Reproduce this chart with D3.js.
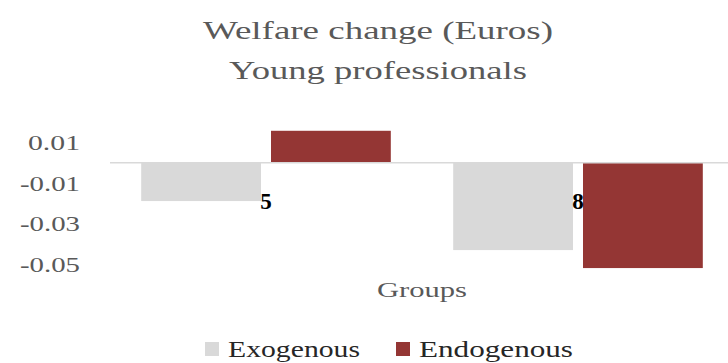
<!DOCTYPE html>
<html>
<head>
<meta charset="utf-8">
<script src="https://cdn.jsdelivr.net/npm/d3@7"></script>
<style>
  html, body { margin: 0; padding: 0; background: #fff; }
  svg { display: block; }
  text { font-family: "Liberation Serif", "DejaVu Serif", serif; fill: #595959; }
</style>
</head>
<body>
<svg id="chart" width="728" height="363"></svg>
<script>
// Welfare change per group, two model variants
const groups = ["5", "8"];
const seriesNames = ["Exogenous", "Endogenous"];
const exogenous = [-0.0187, -0.0427];
const endogenous = [0.0157, -0.0515];
const tickValues = [0.01, -0.01, -0.03, -0.05];
const titleLines = ["Welfare change (Euros)", "Young professionals"];
const axisTitle = "Groups";

const colors = { Exogenous: "#d9d9d9", Endogenous: "#943634" };

const svg = d3.select("#chart");
const W = 728;

const rows = groups.map((g, i) => ({ group: g, Exogenous: exogenous[i], Endogenous: endogenous[i] }));

const x0 = d3.scaleBand().domain(groups).range([110, 734]).paddingInner(0.2).paddingOuter(0.1);
const x1 = d3.scaleBand().domain(seriesNames).range([0, x0.bandwidth()]).paddingInner(0.077);
const y = d3.scaleLinear().domain([-0.05, 0.02]).range([265, 122]);

// Title (glyphs widened to the look of a Computer Modern face)
svg.append("g").selectAll("text").data(titleLines).join("text")
  .attr("x", 378).attr("y", (d, i) => 39 + i * 40)
  .attr("text-anchor", "middle")
  .attr("font-size", 26)
  .attr("textLength", (d, i) => i === 0 ? 350 : 298)
  .attr("lengthAdjust", "spacingAndGlyphs")
  .text(d => d);

// Value axis labels (no axis line, no gridlines), ASCII hyphen for negatives
const fmt = d => d3.format(".2f")(d).replace("\u2212", "-");
const yAxis = d3.axisLeft(y).tickValues(tickValues).tickSize(0).tickPadding(0).tickFormat(fmt);
const yg = svg.append("g").attr("transform", "translate(80,0)").call(yAxis);
yg.select(".domain").remove();
yg.selectAll("text")
  .attr("font-family", "'Liberation Serif', serif")
  .attr("font-size", 21)
  .attr("fill", "#595959")
  .attr("textLength", d => d < 0 ? 60 : 52)
  .attr("lengthAdjust", "spacingAndGlyphs");

// Bars
svg.append("g").selectAll("g").data(rows).join("g")
  .attr("transform", d => `translate(${x0(d.group)},0)`)
  .selectAll("rect")
  .data(d => seriesNames.map(k => ({ key: k, value: d[k] })))
  .join("rect")
  .attr("x", d => x1(d.key))
  .attr("width", x1.bandwidth())
  .attr("y", d => y(Math.max(0, d.value)))
  .attr("height", d => Math.abs(y(d.value) - y(0)))
  .attr("fill", d => colors[d.key]);

// Zero line
svg.append("line")
  .attr("x1", 110).attr("x2", W)
  .attr("y1", y(0)).attr("y2", y(0))
  .attr("stroke", "#d9d9d9").attr("stroke-width", 1.5);

// Category labels
svg.append("g").selectAll("text").data(groups).join("text")
  .attr("x", d => x0(d) + x0.bandwidth() / 2)
  .attr("y", 209)
  .attr("text-anchor", "middle")
  .attr("font-size", 23)
  .attr("font-weight", "bold")
  .style("fill", "#000")
  .text(d => d);

// Axis title
svg.append("text")
  .attr("x", 422).attr("y", 297)
  .attr("text-anchor", "middle")
  .attr("font-size", 22)
  .attr("textLength", 90)
  .attr("lengthAdjust", "spacingAndGlyphs")
  .text(axisTitle);

// Legend
const legendX = [205, 396];
const legendLen = [132, 154];
const lg = svg.append("g").selectAll("g").data(seriesNames).join("g")
  .attr("transform", (d, i) => `translate(${legendX[i]},0)`);
lg.append("rect").attr("x", 0).attr("y", 342).attr("width", 14).attr("height", 14)
  .attr("fill", d => colors[d]);
lg.append("text").attr("x", 23).attr("y", 357)
  .attr("font-size", 23)
  .attr("textLength", (d, i) => legendLen[i])
  .attr("lengthAdjust", "spacingAndGlyphs")
  .style("fill", "#262626")
  .text(d => d);
</script>
</body>
</html>
